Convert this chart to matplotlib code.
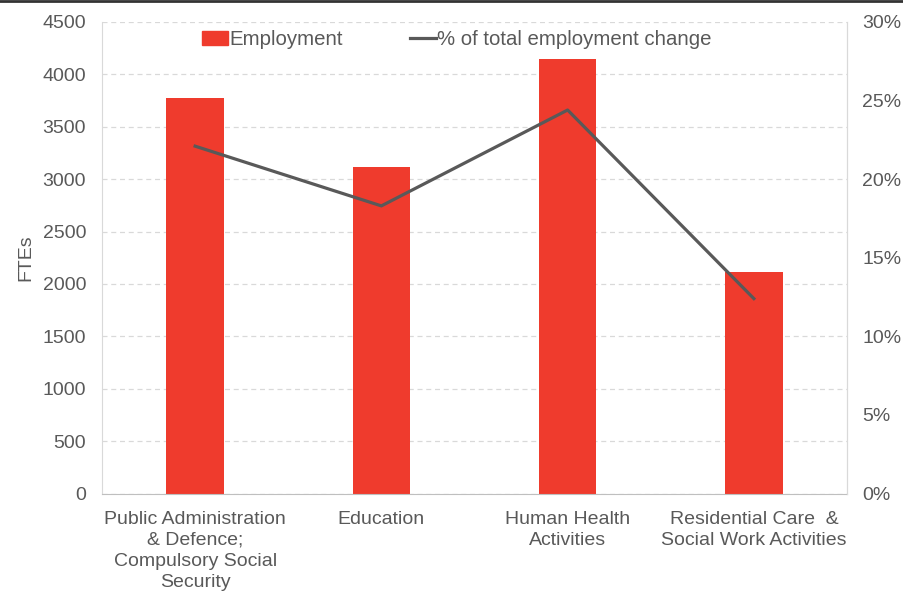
import matplotlib
matplotlib.use("Agg")
import matplotlib.pyplot as plt
from matplotlib.ticker import FuncFormatter, MultipleLocator
from matplotlib.lines import Line2D

plt.rcParams['font.family'] = ['Liberation Sans', 'DejaVu Sans']

categories = ["Public Administration\n& Defence;\nCompulsory Social\nSecurity",
              "Education",
              "Human Health\nActivities",
              "Residential Care  &\nSocial Work Activities"]
employment = [3770, 3120, 4150, 2115]
pct_change = [22.1, 18.3, 24.4, 12.4]

text_color = '#595959'
bar_color = '#EF3B2D'
line_color = '#595959'
grid_color = '#D9D9D9'
fs = 14

fig = plt.figure(figsize=(9.04, 5.91), dpi=100)
ax = fig.add_axes([102/904, 1 - 493.5/591, (847 - 102)/904, (493.5 - 22)/591])

x = list(range(len(categories)))
ax.bar(x, employment, width=0.31, color=bar_color, zorder=2, label='Employment')
ax.set_xlim(-0.5, len(categories) - 0.5)
ax.set_ylim(0, 4500)
ax.yaxis.set_major_locator(MultipleLocator(500))
ax.grid(axis='y', color=grid_color, linestyle=(0, (4, 3)), linewidth=0.9, zorder=0)
ax.set_axisbelow(True)
ax.set_xticks(x)
ax.set_xticklabels(categories, fontsize=fs, color=text_color, linespacing=1.3)
ax.tick_params(axis='x', length=0, pad=12.5)
ax.tick_params(axis='y', length=0, pad=11.5, labelsize=fs, labelcolor=text_color)
ax.set_ylabel('FTEs', fontsize=fs, color=text_color, labelpad=6)
for s in ['left', 'right']:
    ax.spines[s].set_color(grid_color)
ax.spines['bottom'].set_color('#BFBFBF')
ax.spines['top'].set_visible(False)

ax2 = ax.twinx()
ax2.plot(x, pct_change, color=line_color, linewidth=2.3, zorder=3,
         label='% of total employment change')
ax2.set_ylim(0, 30)
ax2.yaxis.set_major_locator(MultipleLocator(5))
ax2.yaxis.set_major_formatter(FuncFormatter(lambda v, p: f"{v:.0f}%"))
ax2.tick_params(axis='y', length=0, pad=11, labelsize=fs, labelcolor=text_color)
for s in ['left', 'top', 'bottom']:
    ax2.spines[s].set_visible(False)
ax2.spines['right'].set_color(grid_color)

handles = [plt.Rectangle((0, 0), 1, 1, color=bar_color),
           Line2D([0], [0], color=line_color, linewidth=2.3)]
labels = ['Employment', '% of total employment change']
ax2.legend(handles, labels, loc='upper center', bbox_to_anchor=(0.4765, 1.0),
           ncol=2, frameon=False, fontsize=14.7, labelcolor=text_color,
           handlelength=1.27, handletextpad=0.08, columnspacing=3.25,
           borderaxespad=0.0)

fig.add_artist(Line2D([0, 1], [1 - 1/591, 1 - 1/591], transform=fig.transFigure,
                      color='#333333', linewidth=2))

fig.savefig('out.png', dpi=100)
